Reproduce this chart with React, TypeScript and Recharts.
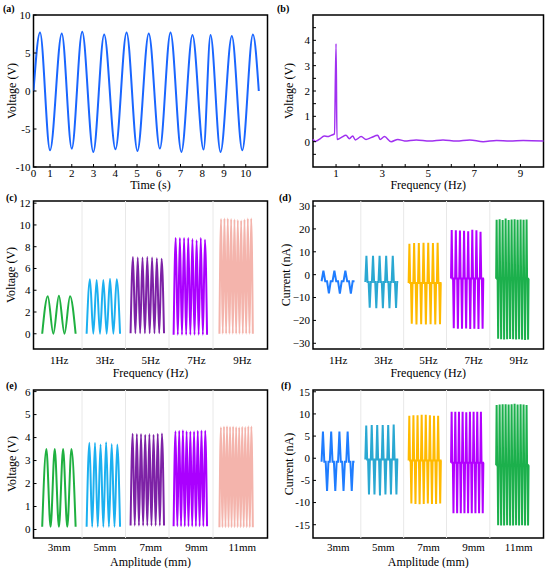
import { Line, LineChart, ReferenceArea, ReferenceLine, XAxis, YAxis } from "recharts";

// (a) time-domain voltage: start, alternating peaks / troughs, end
const aTime = [0.24, 0.54, 1.0, 1.54, 2.0, 2.48, 2.99, 3.49, 4.01, 4.52, 5.02, 5.54, 6.05, 6.54, 7.04, 7.55, 8.06, 8.38, 8.84, 9.36, 9.84, 10.33, 10.6];
const aVoltage = [0, 7.71, -7.8, 7.58, -7.58, 7.8, -8.02, 7.45, -7.67, 7.71, -7.89, 7.58, -7.58, 7.71, -8.02, 7.36, -7.71, 7.36, -8.02, 7.23, -7.8, 7.45, 0];
const aXTicks = [0.24, 1, 2, 3, 4, 5, 6, 7, 8, 9, 10];
const aYTicks = [-10, -5, 0, 5, 10];

// (b) spectrum
const bFreq = [0, 0.1, 0.27, 0.49, 0.64, 0.78, 0.93, 1.0, 1.04, 1.22, 1.43, 1.58, 1.72, 1.84, 2.09, 2.3, 2.52, 2.81, 2.91, 3.1, 3.39, 3.68, 3.97, 4.48, 5.06, 5.64, 6.22, 6.8, 7.38, 7.96, 8.54, 9.12, 10];
const bVoltage = [0.1, 0.01, 0.09, 0.22, 0.2, 0.25, 0.31, 3.87, 0.09, 0.16, 0.25, 0.12, 0.22, 0.07, 0.2, 0.09, 0.16, 0.25, 0.09, 0.2, 0.0, 0.09, 0.03, 0.07, 0.03, 0.07, 0.03, 0.07, 0.0, 0.05, 0.03, 0.05, 0.03];
const bXTicks = [1, 2, 3, 4, 5, 6, 7, 8, 9];
const bYTicks = [-0.5, 0, 0.5, 1, 1.5, 2, 2.5, 3, 3.5, 4, 4.5];

// (c) voltage vs frequency
const cLabels = ["1Hz", "3Hz", "5Hz", "7Hz", "9Hz"];
const cPeaks = [
  [3.45, 3.5, 3.45],
  [5.0, 4.95, 4.95, 5.05, 5.0],
  [7.05, 7.0, 7.0, 7.05, 7.0, 6.95, 6.9],
  [8.8, 8.8, 8.8, 8.8, 8.7, 8.6, 8.8, 8.65],
  [10.55, 10.6, 10.6, 10.55, 10.5, 10.45, 10.4, 10.5, 10.6, 10.6],
];
const cTroughs = [0, 0, 0.05, -0.1, 0];
const cYTicks = [0, 2, 4, 6, 8, 10, 12];

// (d) current vs frequency
const dLabels = ["1Hz", "3Hz", "5Hz", "7Hz", "9Hz"];
const dUp = [
  [1.7, 1.7, 1.7],
  [8.3, 8.3, 8.3, 8.3, 8.3],
  [13.5, 13.8, 13.8, 13.9, 13.9, 13.8, 13.9],
  [19.5, 19.4, 19.3, 19.2, 19.0, 19.6, 19.4, 18.8],
  [24.0, 24.2, 23.9, 24.5, 23.9, 24.1, 24.2, 24.0, 24.1, 24.0, 24.1],
];
const dDown = [
  [-8.2, -8.3, -8.3],
  [-14.5, -14.7, -14.7, -14.7, -14.6],
  [-21.5, -21.8, -21.7, -21.8, -21.7, -21.8, -21.7],
  [-23.4, -23.6, -23.6, -23.5, -23.8, -23.6, -23.7, -23.6],
  [-28.0, -28.2, -28.3, -28.2, -28.1, -28.2, -28.3, -28.2, -28.4, -28.6, -28.4],
];
const dBase = [-2.9, -3.2, -3.7, -1.7, -1.8];
const dYTicks = [-30, -20, -10, 0, 10, 20, 30];

// (e) voltage vs amplitude
const eLabels = ["3mm", "5mm", "7mm", "9mm", "11mm"];
const ePeaks = [
  [3.5, 3.5, 3.5, 3.5],
  [3.77, 3.77, 3.7, 3.8, 3.72, 3.7],
  [4.17, 4.16, 4.16, 4.12, 4.15, 4.12, 4.17, 4.18],
  [4.28, 4.3, 4.32, 4.28, 4.26, 4.27, 4.3, 4.31, 4.3],
  [4.45, 4.48, 4.49, 4.47, 4.48, 4.46, 4.45, 4.47, 4.46, 4.49, 4.48],
];
const eTroughs = [0.12, 0.12, 0.17, 0.14, 0.1];
const eYTicks = [0, 1, 2, 3, 4, 5, 6];

// (f) current vs amplitude
const fLabels = ["3mm", "5mm", "7mm", "9mm", "11mm"];
const fUp = [
  [6.0, 6.0, 6.0, 6.0],
  [7.4, 7.5, 7.5, 7.5, 7.5, 7.6],
  [9.6, 9.7, 9.7, 9.8, 9.8, 9.7, 9.6, 9.6],
  [10.5, 10.5, 10.5, 10.5, 10.4, 10.5, 10.5, 10.5, 10.5],
  [12.0, 12.1, 12.2, 12.2, 12.1, 12.2, 12.3, 12.1, 12.2, 12.1, 12.0],
];
const fDown = [
  [-7.4, -7.4, -7.4, -7.4],
  [-8.2, -8.2, -8.4, -8.2, -8.2, -8.2],
  [-10.2, -10.3, -10.4, -10.3, -10.2, -10.3, -10.3, -10.2],
  [-12.4, -12.4, -12.4, -12.4, -12.4, -12.4, -12.4, -12.4, -12.4],
  [-15.1, -15.2, -15.2, -15.1, -15.2, -15.2, -15.1, -15.2, -15.1, -15.2, -15.2],
];
const fBase = [-0.8, -0.3, -0.5, -1.0, -1.6];
const fYTicks = [-15, -10, -5, 0, 5, 10, 15];

// layout of the segmented panels (x units: one slot per category)
const SEG_X: [number, number] = [-0.06, 5.05];
const SEG_TICKS = [0.5, 1.5, 2.5, 3.5, 4.5];
const SEG_BOUNDS = [1, 1.95, 2.9, 3.86];
const WIN_START = [0.13, 1.1, 2.06, 3.0, 4.0];
const WIN_WIDTH = 0.73;

const VOLT_COLORS = ["#1fb040", "#1cb0f0", "#7d22a6", "#aa00ff", "#f4b4ac"];
const CURR_COLORS = ["#1f7dff", "#2aa8d2", "#ffba00", "#b300ff", "#1cb04c"];

const FONT = "Liberation Serif";
const tickStyle = { fill: "#000", fontSize: 11, fontFamily: FONT };
const titleStyle = { fill: "#000", fontSize: 12, fontFamily: FONT };

type Pt = { x: number; y: number };

function voltageTrace(peaks: number[], trough: number, i: number): Pt[] {
  const n = peaks.length * 2;
  const pts: Pt[] = [];
  for (let k = 0; k <= n; k++) {
    pts.push({ x: WIN_START[i] + (k * WIN_WIDTH) / n, y: k % 2 ? peaks[(k - 1) / 2] : trough });
  }
  return pts;
}

// each cycle: baseline, up spike, baseline, baseline, down spike, baseline
function currentTrace(up: number[], down: number[], base: number, i: number): Pt[] {
  const n = up.length * 6;
  const pts: Pt[] = [];
  for (let k = 0; k <= n; k++) {
    const c = Math.floor(k / 6);
    const ph = k % 6;
    const y = ph === 1 ? up[c] : ph === 4 ? down[c] : base;
    pts.push({ x: WIN_START[i] + (k * WIN_WIDTH) / n, y });
  }
  return pts;
}

const minus = (v: number) => (v < 0 ? "\u2212" + Math.abs(v) : String(v));

type Box = { left: number; top: number; height: number; mt: number; yw: number; mr: number; xh: number };

const ROW = [
  { top: 0, height: 192, mt: 15, xh: 25 },
  { top: 192, height: 187, mt: 9, xh: 30 },
  { top: 379, height: 189, mt: 11, xh: 30 },
];
const COL = [
  { left: 0, yw: 33.5, mr: 7.5 },
  { left: 275, yw: 38, mr: 6.5 },
];
const box = (r: number, c: number): Box => ({ ...ROW[r], ...COL[c] });

function Frame({ b, children }: { b: Box; children: React.ReactNode }) {
  return (
    <div style={{ position: "absolute", left: b.left, top: b.top }}>
      {children}
    </div>
  );
}

function SegPanel(props: {
  b: Box;
  labels: string[];
  yDomain: [number, number];
  yTicks: number[];
  yTitle: string;
  xTitle: string;
  yTitleX: number;
  tickMargin: number;
  xTitleOffset: number;
  traces: Pt[][];
  colors: string[];
  curved: boolean[];
  fmt?: (v: number) => string;
}) {
  const { b } = props;
  return (
    <Frame b={b}>
      <LineChart width={275} height={b.height} margin={{ top: b.mt, right: b.mr, left: 0, bottom: 0 }}>
        <XAxis
          type="number"
          dataKey="x"
          domain={SEG_X}
          allowDataOverflow
          ticks={SEG_TICKS}
          interval={0}
          tickFormatter={(v: number) => props.labels[Math.round(v - 0.5)]}
          tick={tickStyle}
          tickLine={false}
          axisLine={false}
          tickSize={-3}
          tickMargin={props.tickMargin}
          height={b.xh}
          label={{ value: props.xTitle, position: "insideBottom", offset: props.xTitleOffset, style: titleStyle }}
        />
        <YAxis
          type="number"
          domain={props.yDomain}
          allowDataOverflow
          ticks={props.yTicks}
          interval={0}
          tickFormatter={props.fmt}
          tick={tickStyle}
          tickLine={{ stroke: "#000" }}
          axisLine={false}
          tickSize={-3}
          tickMargin={6}
          width={b.yw}
          label={{ value: props.yTitle, angle: -90, position: "insideLeft", offset: props.yTitleX, style: { ...titleStyle, textAnchor: "middle" } }}
        />
        {SEG_BOUNDS.map((x) => (
          <ReferenceLine key={x} x={x} stroke="#e8e8e8" strokeWidth={1} />
        ))}
        {props.traces.map((pts, i) => (
          <Line
            key={i}
            data={pts}
            dataKey="y"
            type={props.curved[i] ? "monotone" : "linear"}
            stroke={props.colors[i]}
            strokeWidth={2}
            dot={false}
            isAnimationActive={false}
          />
        ))}
        <ReferenceArea x1={SEG_X[0]} x2={SEG_X[1]} y1={props.yDomain[0]} y2={props.yDomain[1]} fill="none" stroke="#000" strokeWidth={1.5} />
      </LineChart>
    </Frame>
  );
}

const aData = aTime.map((t, i) => ({ t, v: aVoltage[i] }));
const bData = bFreq.map((f, i) => ({ f, v: bVoltage[i] }));

const PanelLetter = ({ text, left, top }: { text: string; left: number; top: number }) => (
  <div style={{ position: "absolute", left, top, fontSize: 10, fontWeight: "bold", lineHeight: "10px", fontFamily: FONT }}>{text}</div>
);

export default function App() {
  const b1 = box(0, 0);
  const b2 = box(0, 1);
  return (
    <div style={{ position: "absolute", left: 0, top: 0, width: 550, height: 571, background: "#fff", fontFamily: FONT }}>
      <Frame b={b1}>
        <LineChart width={275} height={b1.height} data={aData} margin={{ top: b1.mt, right: b1.mr, left: 0, bottom: 0 }}>
          <XAxis
            type="number"
            dataKey="t"
            domain={[0.24, 11]}
            allowDataOverflow
            ticks={aXTicks}
            interval={0}
            tickFormatter={(v: number) => (v < 0.5 ? "0" : String(v))}
            tick={tickStyle}
            tickLine={{ stroke: "#000" }}
            axisLine={false}
            tickSize={-3}
            tickMargin={5}
            height={b1.xh}
            label={{ value: "Time (s)", position: "insideBottom", offset: 3, style: titleStyle }}
          />
          <YAxis
            type="number"
            domain={[-10, 10]}
            ticks={aYTicks}
            interval={0}
            tick={tickStyle}
            tickLine={{ stroke: "#000" }}
            axisLine={false}
            tickSize={-3}
            tickMargin={6}
            width={b1.yw}
            label={{ value: "Voltage (V)", angle: -90, position: "insideLeft", offset: 11.5, style: { ...titleStyle, textAnchor: "middle" } }}
          />
          <Line dataKey="v" type="monotone" stroke="#1a66ff" strokeWidth={2} dot={false} isAnimationActive={false} />
          <ReferenceArea x1={0.24} x2={11} y1={-10} y2={10} fill="none" stroke="#000" strokeWidth={1.5} />
        </LineChart>
      </Frame>

      <Frame b={b2}>
        <LineChart width={275} height={b2.height} data={bData} margin={{ top: b2.mt, right: b2.mr, left: 0, bottom: 0 }}>
          <XAxis
            type="number"
            dataKey="f"
            domain={[0, 10]}
            ticks={bXTicks}
            interval={0}
            tickFormatter={(v: number) => (v % 2 === 1 ? String(v) : "")}
            tick={tickStyle}
            tickLine={{ stroke: "#000" }}
            axisLine={false}
            tickSize={-3}
            tickMargin={5}
            height={b2.xh}
            label={{ value: "Frequency (Hz)", position: "insideBottom", offset: 3, style: titleStyle }}
          />
          <YAxis
            type="number"
            domain={[-1, 5]}
            ticks={bYTicks}
            interval={0}
            tickFormatter={(v: number) => (Number.isInteger(v) ? String(v) : "")}
            tick={tickStyle}
            tickLine={{ stroke: "#000" }}
            axisLine={false}
            tickSize={-3}
            tickMargin={6}
            width={b2.yw}
            label={{ value: "Voltage (V)", angle: -90, position: "insideLeft", offset: 14, style: { ...titleStyle, textAnchor: "middle" } }}
          />
          <Line dataKey="v" type="monotone" stroke="#a030f0" strokeWidth={1.5} dot={false} isAnimationActive={false} />
          <ReferenceArea x1={0} x2={10} y1={-1} y2={5} fill="none" stroke="#000" strokeWidth={1.5} />
        </LineChart>
      </Frame>

      <SegPanel
        b={box(1, 0)}
        labels={cLabels}
        yDomain={[-1.4, 12.2]}
        yTicks={cYTicks}
        yTitle="Voltage (V)"
        xTitle="Frequency (Hz)"
        yTitleX={11}
        tickMargin={10}
        xTitleOffset={2.5}
        traces={cPeaks.map((p, i) => voltageTrace(p, cTroughs[i], i))}
        colors={VOLT_COLORS}
        curved={[true, true, true, true, true]}
      />
      <SegPanel
        b={box(1, 1)}
        labels={dLabels}
        yDomain={[-32.5, 32.2]}
        yTicks={dYTicks}
        yTitle="Current (nA)"
        xTitle="Frequency (Hz)"
        yTitleX={10.5}
        tickMargin={10}
        xTitleOffset={2.5}
        traces={dUp.map((u, i) => currentTrace(u, dDown[i], dBase[i], i))}
        colors={CURR_COLORS}
        curved={[false, false, false, false, false]}
        fmt={minus}
      />
      <SegPanel
        b={box(2, 0)}
        labels={eLabels}
        yDomain={[-0.37, 6.07]}
        yTicks={eYTicks}
        yTitle="Voltage (V)"
        xTitle="Amplitude (mm)"
        yTitleX={11.5}
        tickMargin={8}
        xTitleOffset={2.5}
        traces={ePeaks.map((p, i) => voltageTrace(p, eTroughs[i], i))}
        colors={VOLT_COLORS}
        curved={[true, true, true, true, true]}
      />
      <SegPanel
        b={box(2, 1)}
        labels={fLabels}
        yDomain={[-18, 15.4]}
        yTicks={fYTicks}
        yTitle="Current (nA)"
        xTitle="Amplitude (mm)"
        yTitleX={14}
        tickMargin={8}
        xTitleOffset={2.5}
        traces={fUp.map((u, i) => currentTrace(u, fDown[i], fBase[i], i))}
        colors={CURR_COLORS}
        curved={[false, false, false, false, false]}
      />

      <PanelLetter text="(a)" left={3} top={4} />
      <PanelLetter text="(b)" left={277} top={4} />
      <PanelLetter text="(c)" left={6} top={193} />
      <PanelLetter text="(d)" left={279} top={193} />
      <PanelLetter text="(e)" left={6} top={381} />
      <PanelLetter text="(f)" left={281} top={381} />
    </div>
  );
}
